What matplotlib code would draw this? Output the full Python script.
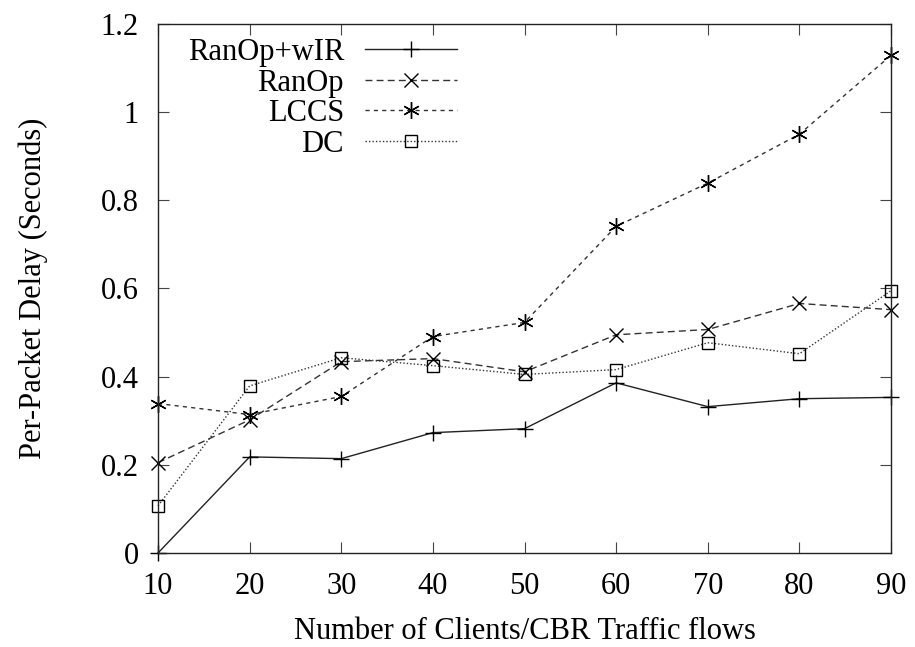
import numpy as np
import matplotlib.pyplot as plt

plt.rcParams['font.family'] = ['Liberation Serif', 'DejaVu Serif']

# data
clients = [10, 20, 30, 40, 50, 60, 70, 80, 90]
ranop_wir = [0.0, 0.218, 0.214, 0.273, 0.282, 0.386, 0.332, 0.350, 0.353]
ranop = [0.205, 0.302, 0.434, 0.441, 0.411, 0.495, 0.507, 0.566, 0.552]
lccs = [0.339, 0.314, 0.355, 0.491, 0.523, 0.741, 0.839, 0.950, 1.129]
dc = [0.107, 0.379, 0.443, 0.425, 0.405, 0.416, 0.477, 0.452, 0.595]

yticks = [0, 0.2, 0.4, 0.6, 0.8, 1.0, 1.2]
ytick_labels = ['0', '0.2', '0.4', '0.6', '0.8', '1', '1.2']

fig = plt.figure(figsize=(9.15, 6.47), dpi=100)
ax = fig.add_axes([0.1727, 0.1453, 0.8011, 0.8176])

ax.plot(clients, ranop_wir, color='#222222', lw=1.0, ls='-', clip_on=False,
        marker='+', ms=11, mew=1.0, mec='black', label='RanOp+wIR')
ax.plot(clients, ranop, color='#333333', lw=1.0, ls=(0, (5, 3)), clip_on=False,
        marker='x', ms=10, mew=1.0, mec='black', label='RanOp')
ax.plot(clients, lccs, color='#333333', lw=1.0, ls=(0, (3, 3)), clip_on=False,
        marker=(6, 2, 0), ms=12, mew=1.0, mec='black', label='LCCS')
ax.plot(clients, dc, color='#333333', lw=1.0, ls=(0, (1, 1.5)), clip_on=False,
        marker='s', ms=9, mew=1.0, mec='black', mfc='none', label='DC')

ax.set_xlim(10, 90)
ax.set_ylim(0, 1.2)
ax.set_xticks(clients)
ax.set_yticks(yticks)
ax.set_yticklabels(ytick_labels)
ax.tick_params(direction='in', length=8, width=0.8, top=True, right=True,
               labelsize=22, pad=14, color='#444444')
for s in ax.spines.values():
    s.set_linewidth(1.0)
    s.set_color('#222222')

ax.set_xlabel('Number of Clients/CBR Traffic flows', fontsize=22, labelpad=11)
ax.set_ylabel('Per-Packet Delay (Seconds)', fontsize=22, labelpad=38)

leg = ax.legend(loc='upper left', bbox_to_anchor=(0.032, 0.985), frameon=False,
                markerfirst=False, fontsize=22, handlelength=3.0,
                labelspacing=0.05, handletextpad=0.7, borderpad=0.2,
                borderaxespad=0.0)
for t in leg.get_texts():
    t.set_ha('right')
leg._legend_box.align = 'right'

fig.savefig('out.png', dpi=100)
